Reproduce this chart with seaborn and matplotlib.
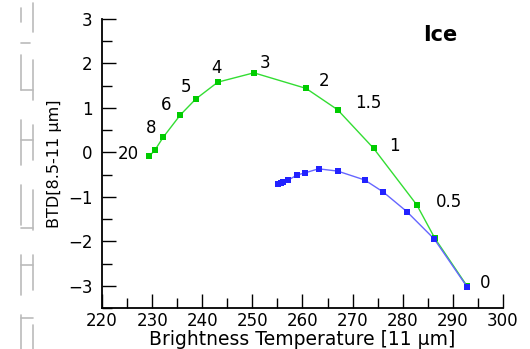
import matplotlib
matplotlib.use('Agg')
import matplotlib.pyplot as plt
import seaborn as sns
import pandas as pd
from matplotlib.lines import Line2D

# green curve (labelled points), x = BT[11um], y = BTD
green_bt = [229.4, 230.6, 232.2, 235.6, 238.7, 243.1, 250.3, 260.7, 267.0, 274.2, 282.8, 286.4, 292.8]
green_btd = [-0.09, 0.06, 0.34, 0.84, 1.2, 1.58, 1.79, 1.44, 0.96, 0.09, -1.18, -1.93, -3.0]
green_lab = ['20', '', '8', '6', '5', '4', '3', '2', '1.5', '1', '0.5', '', '0']

# blue curve
blue_bt = [255.2, 255.7, 256.2, 257.2, 258.9, 260.5, 263.2, 267.0, 272.4, 276.1, 280.8, 286.3, 292.8]
blue_btd = [-0.71, -0.69, -0.66, -0.62, -0.51, -0.46, -0.37, -0.42, -0.62, -0.89, -1.33, -1.95, -3.02]

# label offsets in points (dx, dy)
lab_off = {'20': (-15, 2), '8': (-9, 7), '6': (-10, 7), '5': (-7, 9), '4': (-1, 10), '3': (8, 7),
           '2': (13, 5), '1.5': (22, 5), '1': (15, 2), '0.5': (23, 2), '0': (13, 2)}

g = pd.DataFrame({'bt': green_bt, 'btd': green_btd})
b = pd.DataFrame({'bt': blue_bt, 'btd': blue_btd})

sns.set_style('ticks')
plt.rcParams['font.family'] = ['DejaVu Sans']
plt.rcParams['text.color'] = 'black'
plt.rcParams['axes.labelcolor'] = 'black'

fig = plt.figure(figsize=(5.3, 3.49), dpi=100)
ax = fig.add_axes([0.1925, 0.1175, 0.7565, 0.828])

sns.lineplot(data=g, x='bt', y='btd', ax=ax, sort=False, color='#33dd33', lw=1,
             marker='s', markersize=5, markeredgewidth=0, markerfacecolor='#00cc00')
sns.lineplot(data=b, x='bt', y='btd', ax=ax, sort=False, color='#6666ff', lw=1,
             marker='s', markersize=5, markeredgewidth=0, markerfacecolor='#2222ff')

for x, y, t in zip(green_bt, green_btd, green_lab):
    if t:
        ax.annotate(t, (x, y), xytext=lab_off[t], textcoords='offset points',
                    ha='center', va='center', fontsize=12, color='black')

ax.text(287.5, 2.64, 'Ice', fontsize=15, fontweight='bold', ha='center', va='center', color='black')

ax.set_xlim(220, 300)
ax.set_ylim(-3.5, 3)
ax.set_xticks(range(220, 301, 10))
ax.set_xticks(range(225, 300, 10), minor=True)
ax.set_yticks(range(-3, 4))
ax.set_yticks([-3.5, -2.5, -1.5, -0.5, 0.5, 1.5, 2.5], minor=True)
ax.tick_params(which='both', direction='in', labelsize=12, width=1, colors='black')
ax.tick_params(which='major', length=10, pad=3)
ax.tick_params(which='minor', length=7)
ax.tick_params(axis='y', pad=7)
for s in ['top', 'right']:
    ax.spines[s].set_visible(False)
for s in ['left', 'bottom']:
    ax.spines[s].set_linewidth(1.3)
    ax.spines[s].set_color('black')
ax.set_xlabel('Brightness Temperature [11 µm]', fontsize=13.5, labelpad=0)
ax.set_ylabel('BTD[8.5-11 µm]', fontsize=11.5, labelpad=4)

# gray scan-border artefacts on the left edge
segs = [((21, 21), (8, 22)), ((33, 33), (3, 32)), ((21, 30), (43, 43)),
        ((21, 21), (55, 90)), ((33, 33), (60, 100)), ((21, 33), (90, 90)),
        ((21, 21), (120, 165)), ((33, 33), (125, 160)), ((21, 33), (140, 140)),
        ((21, 21), (185, 225)), ((33, 33), (190, 230)), ((21, 33), (228, 228)),
        ((21, 21), (255, 295)), ((33, 33), (255, 290)), ((21, 33), (265, 265)),
        ((21, 21), (315, 349)), ((33, 33), (325, 349)), ((21, 33), (318, 318))]
for xs, ys in segs:
    fig.add_artist(Line2D([v / 530 for v in xs], [1 - v / 349 for v in ys],
                          color='#bbbbbb', lw=1.2))

fig.savefig('out.png', dpi=100)
